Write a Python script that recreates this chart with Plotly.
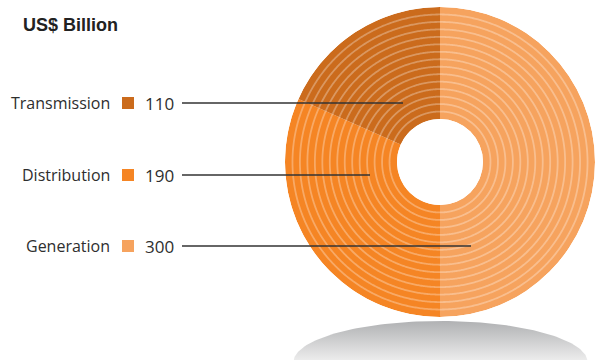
import numpy as np
import plotly.graph_objects as go

# Investment by segment, US$ billion
segments = ["Transmission", "Distribution", "Generation"]
values = [110, 190, 300]
colors = ["#CB6B1C", "#F58524", "#F6A35E"]

W, H = 595, 360
n_rings = 15

fig = go.Figure()

# --- donut: slices laid clockwise from 12 o'clock, Generation first ---
order = ["Generation", "Distribution", "Transmission"]
total = sum(values)
start = 0.0
for name in order:
    i = segments.index(name)
    width = values[i] / total * 360.0
    fig.add_trace(go.Barpolar(
        r=[n_rings], theta=[start + width / 2], width=[width], base=[0],
        marker=dict(color=colors[i], line=dict(width=0)),
        name=name, showlegend=False, hoverinfo="skip",
    ))
    start += width

# thin concentric stripes across the ring
ring_theta = np.linspace(0, 360, 721)
for k in range(1, n_rings):
    fig.add_trace(go.Scatterpolar(
        r=np.full(ring_theta.size, k), theta=ring_theta, mode="lines",
        line=dict(color="rgba(255,255,255,0.3)", width=1.8),
        showlegend=False, hoverinfo="skip",
    ))

# --- soft grey floor shadow under the donut (dark rim, fading downward) ---
t = np.linspace(0, 2 * np.pi, 200)
cx, cy, rx, ry = 440.5, 362, 147, 41
fig.add_trace(go.Scatter(
    x=cx + rx * np.cos(t), y=cy + ry * np.sin(t), mode="lines",
    fill="toself", line=dict(width=0),
    fillgradient=dict(type="vertical", start=cy - ry, stop=H,
                      colorscale=[[0, "#b0b1b3"], [1, "#ececec"]]),
    showlegend=False, hoverinfo="skip",
))

# --- labels, swatches, values and leader lines ---
label_y = {"Transmission": 103, "Distribution": 175, "Generation": 246}
leader_end = {"Transmission": 403, "Distribution": 370, "Generation": 471}
shapes = []
annotations = []
for i, name in enumerate(segments):
    y = label_y[name]
    annotations.append(dict(x=112, y=y, xref="x", yref="y", text=name,
                            showarrow=False, xanchor="right", yanchor="middle",
                            font=dict(family="Open Sans", size=16, color="#2e2e2e")))
    annotations.append(dict(x=143, y=y, xref="x", yref="y", text=str(values[i]),
                            showarrow=False, xanchor="left", yanchor="middle",
                            font=dict(family="Open Sans", size=17, color="#2e2e2e")))
    shapes.append(dict(type="rect", xref="x", yref="y", x0=122, x1=134,
                       y0=y - 6, y1=y + 6, fillcolor=colors[i],
                       line=dict(width=0), layer="above"))
    shapes.append(dict(type="line", xref="x", yref="y", x0=182, x1=leader_end[name],
                       y0=y, y1=y, line=dict(color="#333333", width=1.5),
                       layer="above"))

annotations.append(dict(x=21, y=25, xref="x", yref="y", text="<b>US$ Billion</b>",
                        showarrow=False, xanchor="left", yanchor="middle",
                        font=dict(family="Liberation Sans", size=18, color="#222222")))

R, CX, CY = 155, 440, 162
fig.update_layout(
    width=W, height=H,
    margin=dict(l=0, r=0, t=0, b=0),
    paper_bgcolor="white", plot_bgcolor="rgba(0,0,0,0)",
    xaxis=dict(range=[0, W], domain=[0, 1], visible=False, fixedrange=True),
    yaxis=dict(range=[H, 0], domain=[0, 1], visible=False, fixedrange=True),
    polar=dict(
        domain=dict(x=[(CX - R) / W, 1.0],
                    y=[(H - CY - R) / H, (H - CY + R) / H]),
        hole=43 / R,
        bgcolor="rgba(0,0,0,0)",
        radialaxis=dict(range=[0, n_rings], visible=False),
        angularaxis=dict(rotation=90, direction="clockwise", visible=False),
    ),
    bargap=0,
    shapes=shapes,
    annotations=annotations,
    showlegend=False,
)

fig.write_html("out.html")
